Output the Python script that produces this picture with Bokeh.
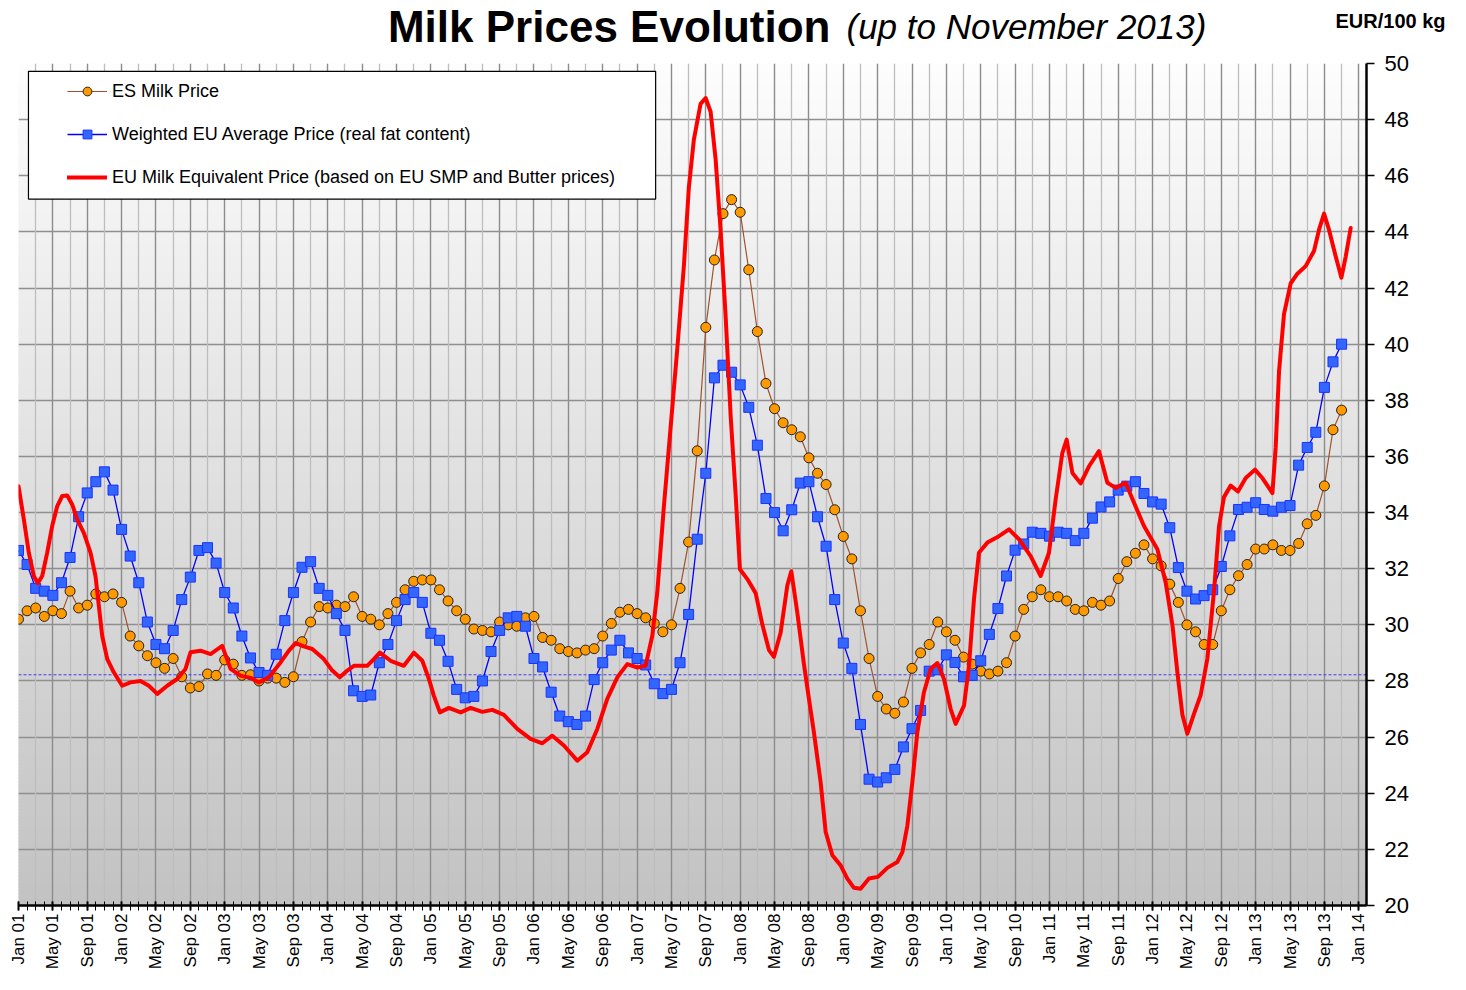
import math
from bokeh.plotting import figure
from bokeh.layouts import column
from bokeh.models import (Range1d, FixedTicker, Span, Label, Legend, LegendItem,
                          BoxAnnotation, Grid)
from bokeh.embed import file_html
from bokeh.resources import INLINE

# ---------------- data (month index 0 = Jan 2001) ----------------
es_price = [
    30.2, 30.5, 30.6, 30.3, 30.5, 30.4, 31.2, 30.6, 30.7, 31.1, 31.0, 31.1,
    30.8, 29.6, 29.25, 28.9, 28.65, 28.45, 28.8, 28.15, 27.75, 27.8, 28.25, 28.2,
    28.75, 28.6, 28.2, 28.22, 28.0, 28.1, 28.1, 27.95, 28.15, 29.4, 30.1, 30.65,
    30.6, 30.7, 30.65, 31.0, 30.3, 30.2, 30.0, 30.4, 30.8, 31.25, 31.55, 31.6,
    31.6, 31.25, 30.85, 30.5, 30.2, 29.85, 29.8, 29.75, 30.1, 30.0, 29.95, 30.25,
    30.3, 29.55, 29.45, 29.15, 29.05, 29.0, 29.1, 29.15, 29.6, 30.05, 30.45, 30.55,
    30.4, 30.25, 30.05, 29.75, 30.0, 31.3, 32.95, 36.2, 40.6, 43.0, 44.65, 45.15,
    44.7, 42.65, 40.45, 38.6, 37.7, 37.2, 36.95, 36.7, 35.95, 35.4, 35.0, 34.1,
    33.15, 32.35, 30.5, 28.8, 27.45, 27.0, 26.85, 27.25, 28.45, 29.0, 29.3, 30.1,
    29.75, 29.45, 28.85, 28.6, 28.35, 28.25, 28.35, 28.65, 29.6, 30.55, 31.0, 31.25,
    31.0, 31.0, 30.85, 30.55, 30.5, 30.8, 30.7, 30.85, 31.65, 32.25, 32.55, 32.85,
    32.35, 32.1, 31.45, 30.8, 30.0, 29.75, 29.3, 29.3, 30.5, 31.25, 31.75, 32.15,
    32.7, 32.7, 32.85, 32.65, 32.65, 32.9, 33.6, 33.9, 34.95, 36.95, 37.65,
]

eu_avg_price = [
    32.65, 32.15, 31.3, 31.2, 31.05, 31.5, 32.4, 33.85, 34.7, 35.1, 35.45, 34.8,
    33.4, 32.45, 31.5, 30.1, 29.3, 29.15, 29.8, 30.9, 31.7, 32.65, 32.75, 32.2,
    31.15, 30.6, 29.6, 28.82, 28.3, 28.2, 28.95, 30.15, 31.15, 32.05, 32.25, 31.3,
    31.05, 30.4, 29.8, 27.65, 27.45, 27.5, 28.65, 29.3, 30.15, 30.9, 31.15, 30.8,
    29.7, 29.45, 28.7, 27.7, 27.4, 27.45, 28.0, 29.05, 29.8, 30.25, 30.3, 29.95,
    28.8, 28.5, 27.6, 26.75, 26.55, 26.45, 26.75, 28.05, 28.65, 29.1, 29.45, 29.0,
    28.8, 28.57, 27.9, 27.55, 27.7, 28.65, 30.37, 33.05, 35.4, 38.8, 39.25, 39.0,
    38.55, 37.75, 36.4, 34.5, 34.0, 33.35, 34.1, 35.05, 35.1, 33.85, 32.8, 30.9,
    29.35, 28.45, 26.45, 24.5, 24.4, 24.55, 24.85, 25.65, 26.3, 26.95, 28.35, 28.4,
    28.93, 28.66, 28.15, 28.2, 28.72, 29.66, 30.58, 31.74, 32.66, 32.88, 33.3, 33.26,
    33.16, 33.3, 33.26, 33.0, 33.26, 33.8, 34.2, 34.38, 34.8, 34.94, 35.1, 34.68,
    34.38, 34.3, 33.46, 32.04, 31.2, 30.92, 31.04, 31.25, 32.08, 33.17, 34.11, 34.19,
    34.35, 34.11, 34.05, 34.19, 34.25, 35.69, 36.32, 36.86, 38.46, 39.37, 40.0,
]

red_month = [
    0.00, 0.62, 1.20, 1.78, 2.25, 2.76, 3.34, 3.92, 4.51, 5.09,
    5.67, 6.25, 6.83, 7.60, 8.38, 8.96, 9.35, 9.74, 10.33, 11.09,
    12.07, 13.04, 14.20, 15.17, 16.15, 17.31, 18.47, 19.44, 20.02, 21.19,
    22.35, 23.71, 24.68, 25.84, 27.01, 27.97, 29.14, 30.50, 31.47, 32.25,
    33.21, 34.19, 35.54, 36.52, 37.40, 38.27, 39.03, 40.59, 41.36, 42.06,
    43.31, 44.85, 46.02, 47.00, 47.77, 48.35, 49.05, 50.09, 51.46, 52.62,
    53.98, 55.15, 56.50, 58.06, 59.60, 60.97, 62.13, 63.48, 65.04, 66.20,
    67.37, 68.53, 69.70, 70.86, 72.03, 72.99, 73.77, 74.35, 75.12, 75.90,
    76.68, 77.45, 78.03, 78.61, 79.39, 79.98, 80.56, 81.14, 81.72, 82.31,
    82.89, 83.47, 83.97, 84.83, 85.80, 86.58, 87.35, 87.93, 88.71, 89.49,
    89.95, 90.65, 91.42, 92.00, 92.58, 93.36, 93.95, 94.73, 95.69, 96.47,
    97.24, 98.02, 98.99, 100.03, 101.13, 102.29, 102.88, 103.46, 104.04, 104.62,
    105.39, 106.17, 106.95, 107.72, 108.50, 109.08, 110.05, 110.63, 111.21, 111.79,
    112.77, 114.12, 115.29, 116.45, 117.81, 118.97, 119.94, 120.72, 121.50, 122.00,
    122.67, 123.63, 124.60, 125.76, 126.74, 127.71, 128.87, 129.84, 131.00, 132.56,
    133.53, 134.31, 134.89, 135.47, 136.05, 136.79, 137.60, 138.38, 139.15, 139.73,
    140.31, 141.09, 141.94, 142.84, 143.92, 144.78, 145.37, 145.95, 146.33, 146.72,
    147.30, 148.08, 148.86, 149.82, 150.79, 151.37, 151.96, 152.54, 153.32, 153.98,
    154.48, 155.06,
]

red_price = [
    34.94, 33.76, 32.57, 31.74, 31.48, 31.74, 32.57, 33.52, 34.23, 34.59,
    34.61, 34.29, 33.76, 33.28, 32.57, 31.74, 30.68, 29.61, 28.78, 28.31,
    27.83, 27.95, 28.00, 27.83, 27.54, 27.83, 28.07, 28.43, 29.02, 29.08,
    28.96, 29.25, 28.43, 28.19, 28.11, 27.95, 28.13, 28.66, 29.08, 29.35,
    29.23, 29.14, 28.78, 28.37, 28.13, 28.37, 28.54, 28.54, 28.78, 29.01,
    28.72, 28.54, 29.01, 28.72, 28.07, 27.47, 26.88, 27.04, 26.88, 27.04,
    26.90, 26.97, 26.79, 26.29, 25.94, 25.78, 26.05, 25.70, 25.16, 25.46,
    26.29, 27.36, 28.13, 28.60, 28.48, 28.54, 29.61, 31.15, 34.22, 37.03,
    39.84, 42.80, 45.60, 47.29, 48.56, 48.77, 48.28, 46.59, 44.06, 40.97,
    37.45, 34.65, 31.98, 31.63, 31.13, 30.01, 29.10, 28.86, 29.73, 31.41,
    31.91, 30.43, 28.60, 27.37, 26.17, 24.40, 22.62, 21.79, 21.43, 20.96,
    20.63, 20.60, 20.96, 21.02, 21.34, 21.55, 21.90, 22.85, 24.40, 26.17,
    27.60, 28.43, 28.64, 28.07, 27.00, 26.47, 27.12, 28.54, 30.91, 32.57,
    32.93, 33.16, 33.40, 33.05, 32.45, 31.74, 32.57, 34.47, 36.13, 36.60,
    35.41, 35.04, 35.65, 36.19, 35.06, 34.88, 35.06, 34.35, 33.52, 32.69,
    31.50, 30.00, 28.30, 26.80, 26.12, 26.80, 27.50, 28.80, 31.20, 33.50,
    34.55, 34.96, 34.75, 35.23, 35.53, 35.23, 34.96, 34.69, 36.32, 39.04,
    41.08, 42.17, 42.51, 42.78, 43.32, 44.07, 44.65, 44.07, 43.12, 42.37,
    43.12, 44.14,
]

reference_level = 28.22

tick_months = list(range(0, 157, 4))
tick_labels = [
    "Jan 01", "May 01", "Sep 01", "Jan 02", "May 02", "Sep 02", "Jan 03", "May 03",
    "Sep 03", "Jan 04", "May 04", "Sep 04", "Jan 05", "May 05", "Sep 05", "Jan 06",
    "May 06", "Sep 06", "Jan 07", "May 07", "Sep 07", "Jan 08", "May 08", "Sep 08",
    "Jan 09", "May 09", "Sep 09", "Jan 10", "May 10", "Sep 10", "Jan 11", "May 11",
    "Sep 11", "Jan 12", "May 12", "Sep 12", "Jan 13", "May 13", "Sep 13", "Jan 14",
]
y_ticks = list(range(20, 51, 2))

title_main = "Milk Prices Evolution"
title_sub = "(up to November 2013)"
unit_text = "EUR/100 kg"

months = list(range(len(es_price)))

W = 1450
TOP_H = 50

# ---------------- header strip (title + unit) ----------------
top = figure(width=W, height=TOP_H, output_backend="svg", toolbar_location=None,
             x_range=Range1d(0, W), y_range=Range1d(0, TOP_H),
             x_axis_type=None, y_axis_type=None,
             min_border_left=0, min_border_right=0, min_border_top=0, min_border_bottom=0)
try:
    top.frame_align = False
except Exception:
    pass
top.outline_line_color = None
top.background_fill_color = "white"
top.border_fill_color = "white"
top.add_layout(Label(x=830, y=24, text=title_main, text_align="right",
                     text_baseline="middle", text_font="Liberation Sans",
                     text_font_style="bold", text_font_size="44px", text_color="black"))
top.add_layout(Label(x=846, y=24, text=title_sub, text_align="left",
                     text_baseline="middle", text_font="Liberation Sans",
                     text_font_style="italic", text_font_size="35px", text_color="black"))
top.add_layout(Label(x=1335, y=30, text=unit_text, text_align="left",
                     text_baseline="middle", text_font="Liberation Sans",
                     text_font_style="bold", text_font_size="20px", text_color="black"))

# ---------------- main chart ----------------
X_END = 156.9
p = figure(width=W, height=972 - TOP_H, output_backend="svg", toolbar_location=None,
           x_range=Range1d(0, X_END), y_range=Range1d(20, 50),
           y_axis_location="right",
           min_border_left=18, min_border_right=84,
           min_border_top=63 - TOP_H, min_border_bottom=65)
p.outline_line_color = None
p.background_fill_color = "white"
p.border_fill_color = "white"

# gradient background (decoration)
n_bands = 240
step = 30.0 / n_bands
b_bottom, b_top, b_color = [], [], []
for i in range(n_bands):
    t = (i + 0.5) / n_bands
    c = int(round(194 + (253 - 194) * t))
    b_bottom.append(20 + i * step)
    b_top.append(20 + (i + 1.6) * step)
    b_color.append("#%02x%02x%02x" % (c, c, c))
bg = p.quad(left=-2, right=X_END + 2, bottom=b_bottom, top=b_top,
            fill_color=b_color, line_color=None)
bg.level = "image"

# grids
p.xgrid.ticker = FixedTicker(ticks=tick_months)
p.xgrid.grid_line_color = "#8c8c8c"
p.xgrid.grid_line_width = 1.4
p.add_layout(Grid(dimension=0, ticker=FixedTicker(ticks=list(range(2, 157, 4))),
                  grid_line_color="#bdbdbd", grid_line_width=1.3))
p.ygrid.ticker = FixedTicker(ticks=y_ticks)
p.ygrid.grid_line_color = "#8f8f8f"
p.ygrid.grid_line_width = 1.4

# reference dashed line
p.add_layout(Span(location=reference_level, dimension="width", line_color="#3c3cff",
                  line_dash="3 2", line_width=1, level="underlay"))

# series
es_line = p.line(months, es_price, line_color="#a0522d", line_width=1.2)
es_pts = p.scatter(months, es_price, marker="circle", size=10,
                   fill_color="#ff9900", line_color="#222222", line_width=1)
eu_line = p.line(months, eu_avg_price, line_color="#0000ff", line_width=1.3)
eu_pts = p.scatter(months, eu_avg_price, marker="square", size=10,
                   fill_color="#3366ff", line_color="#1a33ff", line_width=1)
red_line = p.line(red_month, red_price, line_color="#ff0000", line_width=4,
                  line_join="round", line_cap="round")

# axes
xa = p.xaxis[0]
xa.ticker = FixedTicker(ticks=tick_months, minor_ticks=list(range(0, 157)))
xa.major_label_overrides = dict(zip(tick_months, tick_labels))
xa.major_label_orientation = math.pi / 2
xa.axis_line_color = "black"
xa.axis_line_width = 2.5
xa.major_tick_in = 4
xa.major_tick_out = 5
xa.minor_tick_in = 4
xa.minor_tick_out = 5
xa.major_tick_line_color = "black"
xa.major_tick_line_width = 2
xa.minor_tick_line_color = "black"
xa.minor_tick_line_width = 1
xa.major_label_text_font = "Liberation Sans"
xa.major_label_text_font_size = "17px"
xa.major_label_text_color = "black"
xa.major_label_standoff = 3

ya = p.yaxis[0]
ya.ticker = FixedTicker(ticks=y_ticks)
ya.axis_line_color = "black"
ya.axis_line_width = 2.5
ya.major_tick_in = 0
ya.major_tick_out = 8
ya.major_tick_line_color = "black"
ya.major_tick_line_width = 1.5
ya.minor_tick_line_color = None
ya.major_label_text_font = "Liberation Sans"
ya.major_label_text_font_size = "22px"
ya.major_label_text_color = "black"
ya.major_label_standoff = 10

# legend frame + legend
p.add_layout(BoxAnnotation(left=1.16, right=74.16, top=49.72, bottom=45.17,
                           fill_color="white", fill_alpha=1.0,
                           line_color="black", line_width=1.2, line_alpha=1.0))
legend = Legend(items=[
    LegendItem(label="ES Milk Price", renderers=[es_line, es_pts]),
    LegendItem(label="Weighted EU Average Price (real fat content)", renderers=[eu_line, eu_pts]),
    LegendItem(label="EU Milk Equivalent Price (based on EU SMP and Butter prices)", renderers=[red_line]),
], location=(49, 717), padding=0, margin=0, spacing=21, glyph_width=40,
   glyph_height=22, label_height=22, label_standoff=5,
   label_text_font="Liberation Sans", label_text_font_size="18px",
   label_text_color="black", border_line_alpha=0, background_fill_alpha=0)
p.add_layout(legend)

layout = column(top, p, spacing=0)
open("out.html", "w").write(file_html(layout, INLINE))
